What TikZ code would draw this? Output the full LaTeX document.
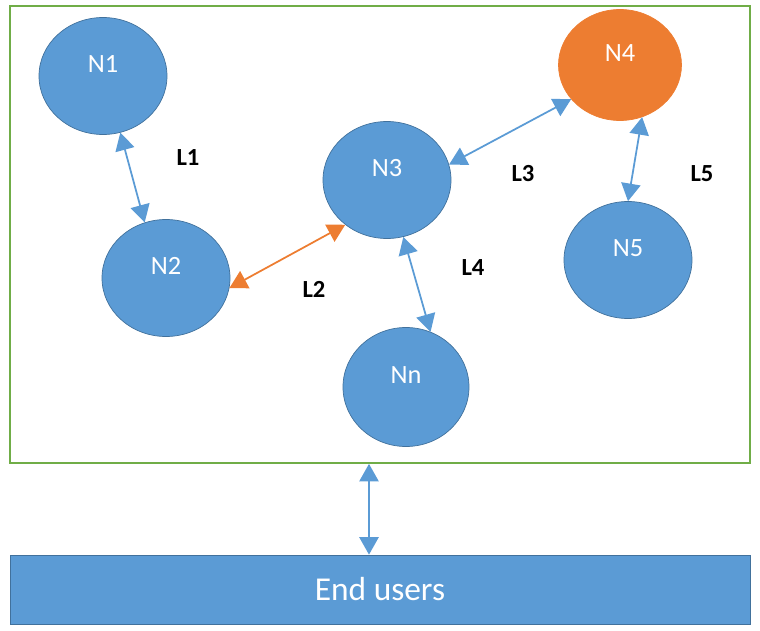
\documentclass[tikz,border=0pt]{standalone}
\usepackage{fontspec}
\setmainfont{Carlito}
\usetikzlibrary{shapes,arrows.meta}
\definecolor{nblue}{HTML}{5B9BD5}
\definecolor{nblueedge}{HTML}{41719C}
\definecolor{norange}{HTML}{ED7D31}
\definecolor{ngreen}{HTML}{70AD47}

\begin{document}
\begin{tikzpicture}[
  netnode/.style={ellipse, fill=nblue, draw=nblueedge, line width=0.4pt, text=white,
    font=\fontsize{15}{18}\selectfont, minimum width=2.56cm, minimum height=2.34cm,
    text height=0.34cm, text depth=0.48cm},
  hotnode/.style={netnode, fill=norange, draw=norange, minimum width=2.46cm, minimum height=2.22cm},
  link/.style={{Triangle[width=11pt,length=10pt]}-{Triangle[width=11pt,length=10pt]}, draw=nblue, line width=1pt},
  hotlink/.style={link, draw=norange},
  lab/.style={font=\fontsize{14}{17}\selectfont\bfseries, text=black}]
\useasboundingbox (0,0) rectangle (15.2,12.6);
\node[draw=ngreen, line width=1pt, minimum width=14.8cm, minimum height=9.14cm, inner sep=0pt] (net) at (7.6,7.91) {};
\node[draw=nblueedge, fill=nblue, text=white, font=\fontsize{19}{23}\selectfont, minimum width=14.8cm, minimum height=1.38cm, inner sep=0pt] (users) at (7.6,0.81) {End users};
\node[netnode] (n1) at (2.06,11.08) {N1};
\node[netnode] (n2) at (3.32,7.04) {N2};
\node[netnode] (n3) at (7.74,9.0) {N3};
\node[hotnode] (n4) at (12.4,11.3) {N4};
\node[netnode] (n5) at (12.56,7.4) {N5};
\node[netnode, minimum width=2.52cm, minimum height=2.38cm] (nn) at (8.12,4.86) {Nn};
\node[lab] (l1) at (3.76,9.44) {L1};
\node[lab] (l2) at (6.28,6.82) {L2};
\node[lab] (l3) at (10.46,9.12) {L3};
\node[lab] (l4) at (9.46,7.24) {L4};
\node[lab] (l5) at (14.04,9.12) {L5};
\coordinate (ux) at (7.38,0);
\draw[link] (n1.-73) -- (n2.111);
\draw[hotlink] (n2.-9) -- (n3.227);
\draw[link] (n3.14) -- (n4.215);
\draw[link] (n3.-74) -- (nn.66);
\draw[link] (n4.-67) -- (n5.90);
\draw[link] (users.north -| ux) -- (net.south -| ux);
\end{tikzpicture}
\end{document}
